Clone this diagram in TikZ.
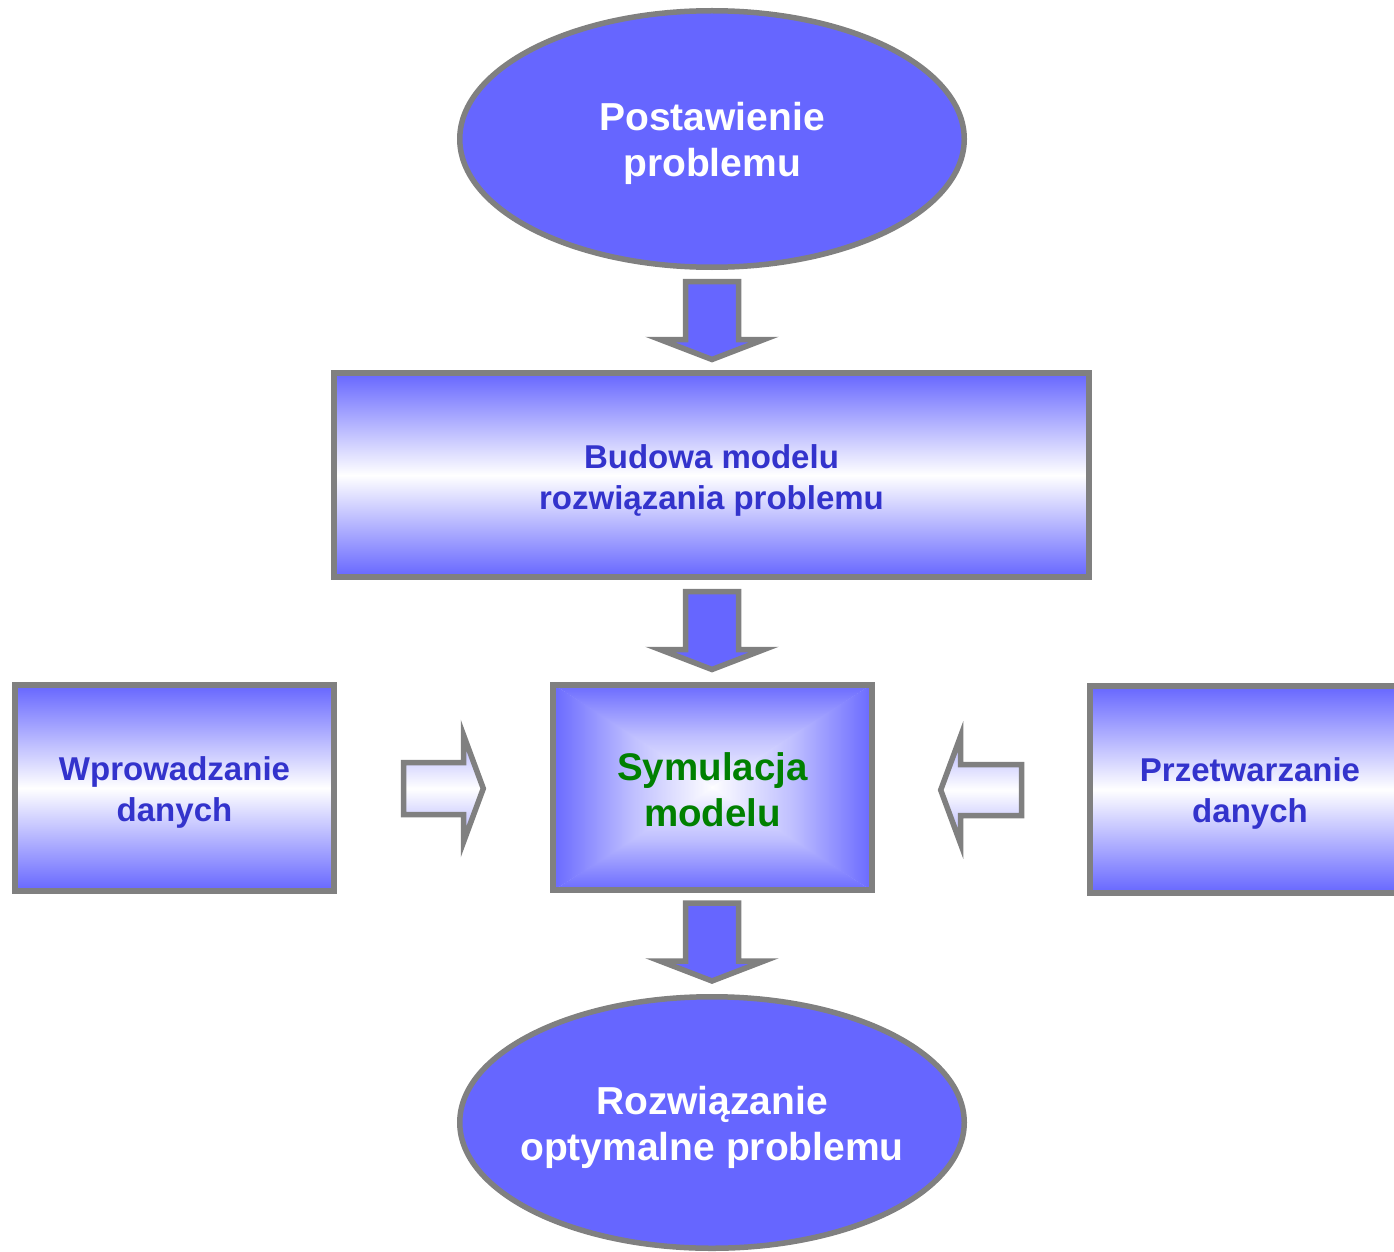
\documentclass[tikz,border=0pt]{standalone}
\usepackage{fontspec}
\setmainfont{Liberation Sans}
\usetikzlibrary{shapes.geometric,backgrounds}
\definecolor{bl}{HTML}{6666FF}
\definecolor{bord}{HTML}{808080}
\definecolor{txtblue}{HTML}{3333CC}
\definecolor{txtgreen}{HTML}{008000}
\newcommand{\downblockarrow}[2]{% #1 = centre x, #2 = top y
  \draw[blockarrow] (#1-26.5,#2) -- (#1+26.5,#2) -- (#1+26.5,#2+58) -- (#1+52,#2+58)
    -- (#1,#2+78) -- (#1-52,#2+58) -- (#1-26.5,#2+58) -- cycle;}
\begin{document}
\begin{tikzpicture}[x=1pt,y=-1pt,
  oval/.style={ellipse, draw=bord, line width=5.5pt, fill=bl, inner sep=0pt},
  ovaltxt/.style={text=white, align=center, inner sep=0pt,
    font=\fontsize{39}{46}\selectfont\bfseries},
  gradbox/.style={rectangle, draw=bord, line width=5.5pt, top color=bl, bottom color=bl,
    middle color=white, inner sep=0pt},
  boxtxt/.style={text=txtblue, align=center, inner sep=0pt,
    font=\fontsize{33}{41}\selectfont\bfseries},
  symtxt/.style={text=txtgreen, align=center, inner sep=0pt,
    font=\fontsize{38.5}{46}\selectfont\bfseries},
  blockarrow/.style={draw=bord, line width=5.5pt, fill=bl, miter limit=10},
  lightarrow/.style={draw=bord, line width=5.5pt, top color=bl!55!white,
    bottom color=bl!55!white, middle color=white, miter limit=10}
]
\useasboundingbox (0,0) rectangle (1394,1252);

% shapes
\node[oval, minimum width=504.5pt, minimum height=256.5pt] (post) at (712,139) {};
\node[gradbox, minimum width=755pt, minimum height=204pt] (bud) at (711.5,475) {};
\node[gradbox, minimum width=319pt, minimum height=206pt] (wpr) at (174.5,788) {};
\node[gradbox, minimum width=320pt, minimum height=207pt] (prz) at (1250,789.5) {};
\node[rectangle, draw=bord, line width=5.5pt, minimum width=319pt, minimum height=205pt,
  inner sep=0pt] (sym) at (712.5,787.5) {};
\node[oval, minimum width=504.5pt, minimum height=251.5pt] (roz) at (712,1122.5) {};

% rectangular gradient of the centre box
\begin{scope}[on background layer]
  \coordinate (c) at (sym.center);
  \begin{scope}
    \clip (sym.north west) -- (sym.north east) -- ([yshift=-1.5pt]c) -- cycle;
    \shade[top color=bl, bottom color=white, middle color=bl!42!white]
      (sym.north west) rectangle ([yshift=-2pt]sym.east);
  \end{scope}
  \begin{scope}
    \clip (sym.south west) -- (sym.south east) -- ([yshift=1.5pt]c) -- cycle;
    \shade[top color=white, bottom color=bl, middle color=bl!42!white]
      ([yshift=2pt]sym.west) rectangle (sym.south east);
  \end{scope}
  \begin{scope}
    \clip (sym.north west) -- (sym.south west) -- ([xshift=1.5pt]c) -- cycle;
    \shade[left color=bl, right color=white, middle color=bl!42!white]
      (sym.north west) rectangle ([xshift=2pt]sym.south);
  \end{scope}
  \begin{scope}
    \clip (sym.north east) -- (sym.south east) -- ([xshift=-1.5pt]c) -- cycle;
    \shade[left color=white, right color=bl, middle color=bl!42!white]
      ([xshift=-2pt]sym.north) rectangle (sym.south east);
  \end{scope}
\end{scope}

% texts
\node[ovaltxt] (postT) at ([yshift=-4pt]post.center) {Postawienie\\problemu};
\node[boxtxt] (budT) at ([yshift=-5pt]bud.center) {Budowa modelu\\rozwiązania problemu};
\node[boxtxt] (wprT) at ([yshift=-4pt]wpr.center) {Wprowadzanie\\danych};
\node[boxtxt] (przT) at ([yshift=-4pt]prz.center) {Przetwarzanie\\danych};
\node[symtxt] (symT) at ([yshift=-2pt]sym.center) {Symulacja\\modelu};
\node[ovaltxt] (rozT) at ([yshift=-5pt]roz.center) {Rozwiązanie\\optymalne problemu};

% block arrows
\downblockarrow{712}{281.5}
\downblockarrow{712}{591.5}
\downblockarrow{712}{903}

\draw[lightarrow] (403.5,762.5) -- (463.5,762.5) -- (463.5,735) -- (483.3,788.5)
  -- (463.5,842) -- (463.5,814.5) -- (403.5,814.5) -- cycle;
\draw[lightarrow] (1021.5,764.5) -- (960.5,764.5) -- (960.5,736.5) -- (940.7,790)
  -- (960.5,843.5) -- (960.5,815.5) -- (1021.5,815.5) -- cycle;
\end{tikzpicture}
\end{document}
